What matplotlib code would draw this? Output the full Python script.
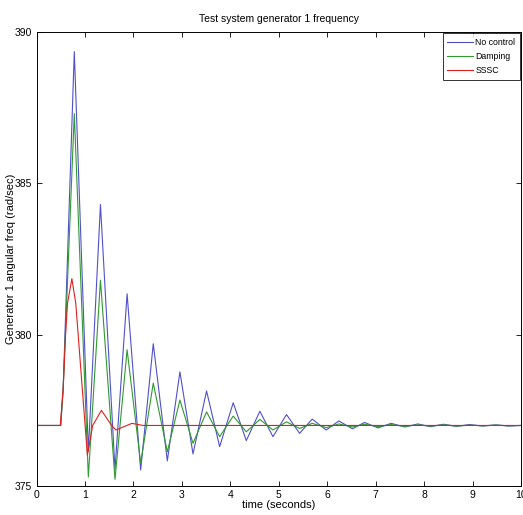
import matplotlib
matplotlib.use('Agg')
import matplotlib.pyplot as plt

plt.rcParams['font.family'] = ['Liberation Sans', 'DejaVu Sans']

# time points (s) of the extrema; shared by the two oscillating runs
t_osc = [0, 0.50, 0.55, 0.78, 1.07, 1.32, 1.62, 1.87, 2.15, 2.41, 2.70, 2.96, 3.23,
         3.51, 3.78, 4.06, 4.33, 4.61, 4.88, 5.16, 5.43, 5.69, 5.98, 6.24, 6.52,
         6.77, 7.05, 7.32, 7.60, 7.87, 8.13, 8.40, 8.67, 8.94, 9.21, 9.48, 9.75, 10.0]

no_control = [377, 377, 378.2, 389.35, 376.15, 384.3, 375.55, 381.35, 375.53, 379.7,
              375.83, 378.77, 376.06, 378.14, 376.30, 377.75, 376.50, 377.47, 376.63,
              377.36, 376.74, 377.21, 376.85, 377.15, 376.89, 377.10, 376.92, 377.07,
              376.95, 377.05, 376.96, 377.04, 376.97, 377.03, 376.98, 377.02, 376.98, 377.0]

damping = [377, 377, 378.2, 387.3, 375.3, 381.8, 375.22, 379.5, 375.75, 378.4,
           376.13, 377.84, 376.41, 377.45, 376.63, 377.31, 376.79, 377.2, 376.85,
           377.12, 376.9, 377.07, 376.93, 377.05, 376.95, 377.04, 376.96, 377.03,
           376.97, 377.02, 376.98, 377.02, 376.98, 377.01, 376.99, 377.01, 376.99, 377.0]

t_sssc = [0, 0.49, 0.55, 0.60, 0.64, 0.73, 0.81, 0.86, 1.05, 1.16, 1.34, 1.55, 1.64, 1.97, 2.2, 10.0]
sssc = [377, 377, 378.2, 380.0, 381.04, 381.85, 381.04, 380.0, 376.02, 377.0, 377.5,
        377.0, 376.85, 377.07, 377.0, 377.0]

fig = plt.figure(figsize=(5.23, 5.15), dpi=100)
ax = fig.add_axes([36.5/523, 29/515, 484.5/523, 454/515])

ax.plot(t_osc, no_control, color='#5050cc', lw=0.8, label='No control')
ax.plot(t_osc, damping, color='#2f9a2f', lw=0.8, label='Damping')
ax.plot(t_sssc, sssc, color='#e02020', lw=0.8, label='SSSC')

ax.set_xlim(0, 10)
ax.set_ylim(375, 390)
ax.set_xticks(range(0, 11))
ax.set_yticks([375, 380, 385, 390])
ax.tick_params(direction='in', top=True, right=True, length=3.6, width=0.6,
               labelsize=7.5, pad=3)
for s in ax.spines.values():
    s.set_linewidth(0.7)

ax.set_title('Test system generator 1 frequency', fontsize=7.5, pad=7)
ax.set_xlabel('time (seconds)', fontsize=8, labelpad=0)
ax.set_ylabel('Generator 1 angular freq (rad/sec)', fontsize=8, labelpad=-1)

leg = ax.legend(loc='upper right', fontsize=6.3, frameon=True, fancybox=False,
                edgecolor='black', handlelength=2.9, handletextpad=0.3,
                borderaxespad=0.15, labelspacing=0.6, borderpad=0.5)
leg.get_frame().set_linewidth(0.7)

fig.savefig('out.png', dpi=100)
